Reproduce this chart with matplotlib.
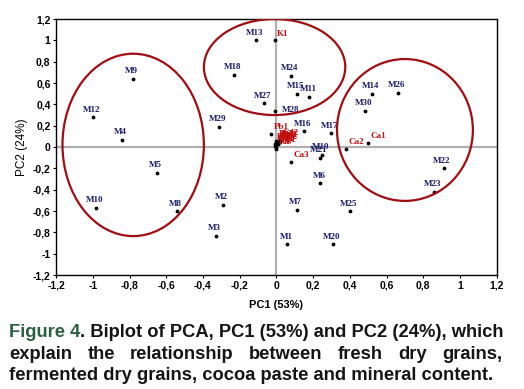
import matplotlib
matplotlib.use("Agg")
from matplotlib import pyplot as plt
from matplotlib.patches import Ellipse
from matplotlib.ticker import FuncFormatter, MultipleLocator

# samples (scores)
samples = ['M13', 'M18', 'M9', 'M12', 'M4', 'M29', 'M27', 'M28', 'M24', 'M15', 'M11',
           'M14', 'M26', 'M30', 'M16', 'M17', 'M5', 'M10', 'M8', 'M2', 'M3',
           'M19', 'M21', 'M6', 'M22', 'M23', 'M7', 'M25', 'M1', 'M20']
sx = [-0.11, -0.23, -0.78, -1.0, -0.84, -0.31, -0.07, -0.01, 0.08, 0.11, 0.18,
      0.52, 0.66, 0.48, 0.15, 0.30, -0.65, -0.98, -0.54, -0.29, -0.33,
      0.25, 0.24, 0.24, 0.91, 0.86, 0.11, 0.40, 0.06, 0.31]
sy = [1.00, 0.68, 0.64, 0.28, 0.07, 0.19, 0.41, 0.34, 0.67, 0.50, 0.47,
      0.50, 0.51, 0.34, 0.15, 0.13, -0.24, -0.57, -0.60, -0.54, -0.83,
      -0.07, -0.10, -0.34, -0.20, -0.42, -0.59, -0.60, -0.91, -0.91]

# minerals (loadings)
minerals = ['K1', 'Ca1', 'Ca2', 'Ca3', 'Pb1', 'Pb2', 'Cd1', 'Cd2', 'Cu1', 'Cu2',
            'Zn1', 'Zn2', 'Fe1', 'Fe2', 'Mg1', 'Mg2', 'K2', 'K3']
mx = [-0.01, 0.50, 0.38, 0.08, -0.03, 0.00, 0.01, 0.02, 0.00, 0.01,
      0.02, 0.00, -0.01, 0.01, 0.00, -0.01, 0.01, 0.00]
my = [1.00, 0.04, -0.02, -0.14, 0.12, 0.06, 0.05, 0.07, 0.04, 0.03,
      0.05, 0.02, 0.03, 0.06, 0.00, 0.01, 0.04, -0.02]

# groups circled on the plot: (cx, cy, width, height)
groups = [(-0.78, 0.02, 0.77, 1.71), (-0.01, 0.75, 0.77, 0.90), (0.70, 0.16, 0.74, 1.33)]

navy = '#1b1b6a'
dred = '#c01010'

fig = plt.figure(figsize=(5.24, 3.89), dpi=100)
ax = fig.add_axes([0.107, 0.293, 0.841, 0.658])
ax.set_xlim(-1.2, 1.2)
ax.set_ylim(-1.2, 1.2)
ax.axhline(0, color='#b0b0b0', lw=1.6, zorder=0)
ax.axvline(0, color='#b0b0b0', lw=1.6, zorder=0)

ax.scatter(sx, sy, s=3, color='black', zorder=3)
for name, x, y in zip(samples, sx, sy):
    dx = 5 if name == 'M28' else -1
    dy = -2 if name == 'M28' else 2.5
    ha = 'left' if name == 'M28' else 'center'
    ax.annotate(name, (x, y), xytext=(dx, dy), textcoords='offset points',
                ha=ha, va='bottom', fontsize=6.5, fontweight='bold',
                family='Liberation Serif', color=navy, zorder=4)

ax.scatter(mx, my, s=3, color='black', zorder=3)
for name, x, y in zip(minerals, mx, my):
    ax.annotate(name, (x, y), xytext=(2, 2), textcoords='offset points',
                ha='left', va='bottom', fontsize=6.5, fontweight='bold',
                family='Liberation Serif', color=dred, zorder=4)

for cx, cy, w, h in groups:
    ax.add_patch(Ellipse((cx, cy), w, h, fill=False, ec='#a00d12', lw=1.6, zorder=5))

fmt = FuncFormatter(lambda v, p: ('%g' % round(v, 1)).replace('.', ','))
for axis in (ax.xaxis, ax.yaxis):
    axis.set_major_locator(MultipleLocator(0.2))
    axis.set_major_formatter(fmt)
ax.tick_params(labelsize=7.5, length=2, width=0.8, pad=2)
for lab in ax.get_xticklabels() + ax.get_yticklabels():
    lab.set_fontweight('bold')
    lab.set_family('Liberation Sans')
for sp in ax.spines.values():
    sp.set_linewidth(1)

ax.set_xlabel('PC1 (53%)', fontsize=8, fontweight='bold', family='Liberation Sans', labelpad=7)
ax.set_ylabel('PC2 (24%)', fontsize=8.5, family='Liberation Sans', labelpad=3)

# caption, second line justified
cap_kw = dict(fontsize=13.2, family='Liberation Sans', fontweight='bold', va='baseline')
left, right = 9 / 524, 502 / 524
y1, y2, y3 = 1 - 337 / 389, 1 - 359 / 389, 1 - 380 / 389
t1 = fig.text(left, y1, 'Figure 4', color='#2a6040', **cap_kw)
r = fig.canvas.get_renderer()
w1 = t1.get_window_extent(r).width / fig.bbox.width
fig.text(left + w1, y1, '. Biplot of PCA, PC1 (53%) and PC2 (24%), which',
         color='#151515', **cap_kw)

words = 'explain the relationship between fresh dry grains,'.split()
texts = [fig.text(0, y2, w, color='#151515', **cap_kw) for w in words]
widths = [t.get_window_extent(r).width / fig.bbox.width for t in texts]
gap = (right - left - sum(widths)) / (len(words) - 1)
xpos = left
for t, w in zip(texts, widths):
    t.set_x(xpos)
    xpos += w + gap

fig.text(left, y3, 'fermented dry grains, cocoa paste and mineral content.',
         color='#151515', **cap_kw)

fig.savefig('out.png', dpi=100)
